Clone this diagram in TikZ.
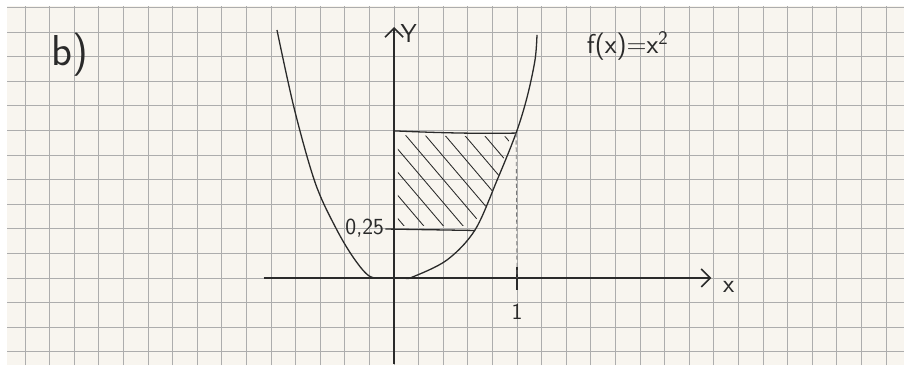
\documentclass[tikz,border=0pt]{standalone}
\usetikzlibrary{arrows.meta}
\definecolor{paper}{HTML}{F8F5EF}
\definecolor{gridgray}{HTML}{ADADAD}
\definecolor{ink}{HTML}{2A2A2A}
\tikzset{
  penline/.style={draw=ink, line width=0.9pt},
  axisline/.style={draw=ink, line width=1.1pt, -{Straight Barb[length=2.2mm,width=4.4mm]}},
  hatchline/.style={draw=ink, line width=0.6pt},
  hand/.style={text=ink, inner sep=0pt, font=\sffamily\fontsize{18}{20}\selectfont},
}
\begin{document}
\begin{tikzpicture}[x=0.6cm, y=0.6cm]
\useasboundingbox (-16.02,-3.90) rectangle (20.73,11.30);
% paper sheet with squares
\fill[white] (-16.02,-3.90) rectangle (20.73,11.30);
\fill[paper] (-15.73,-3.54) rectangle (20.73,11.05);
\draw[gridgray, line width=0.6pt, xstep=0.6cm, ystep=0.6cm] (-15.73,-3.54) grid (20.73,11.05);

% axes
\coordinate (O) at (0,0);
\coordinate (xstart) at (-5.3,0);
\coordinate (xend) at (12.9,0);
\coordinate (ystart) at (0,-3.5);
\coordinate (yend) at (0,10.2);
\draw[axisline] (xstart) -- (xend);
\draw[axisline] (ystart) -- (yend);
\node[hand] (xlabel) at (13.6,-0.35) {x};
\node[hand] (ylabel) at (0.6,9.95) {Y};

% tick at x = 1
\coordinate (tickup) at (5,0.45);
\coordinate (tickdown) at (5,-0.5);
\draw[penline, line width=1.1pt] (tickup) -- (tickdown);
\node[hand, font=\sffamily\fontsize{16}{18}\selectfont] (one) at (5,-1.38) {1};

% parabola (hand drawn)
\draw[penline] plot[smooth, tension=0.55] coordinates {(-4.76,10.08) (-4.05,6.85) (-3.2,3.85) (-2.35,2.0) (-1.62,0.78) (-0.98,0.06) (-0.3,0) (0.4,0) (0.73,0.03) (2.15,0.73) (3.29,1.95) (4.19,3.98) (4.96,5.89) (5.41,7.36) (5.73,8.86) (5.81,9.88)};

% strip between y = 0.25 and y = 1
\coordinate (topL) at (0,5.98);
\coordinate (topR) at (4.96,5.89);
\coordinate (lowL) at (-0.35,1.99);
\coordinate (lowR) at (3.30,1.93);
\coordinate (xone) at (5,0);
\draw[penline] (topL) .. controls (1.8,5.9) and (3.4,5.86) .. (topR);
\draw[penline] (lowL) -- (lowR);
\draw[gridgray!70!black, line width=0.6pt, densely dashed] (topR) -- (xone);
\node[hand, font=\sffamily\fontsize{16}{18}\selectfont, anchor=east] (quarter) at (-0.4,2.02) {0,25};

% hatching
\begin{scope}
\clip (0.15,5.8) -- (4.72,5.75) -- (4.19,3.98) -- (3.75,2.95) -- (3.15,2.12) -- (0.15,2.12) -- cycle;
\foreach \s in {-2.9,-2.1,...,4.9}
  \draw[hatchline] (\s,6) -- ++(4,-4.7);
\end{scope}

% labels
\node[hand, font=\sffamily\fontsize{19}{22}\selectfont] (fx) at (9.5,9.45) {f(x)=x\textsuperscript{2}};
\node[hand, font=\sffamily\fontsize{30}{34}\selectfont] (part) at (-13.17,9.07) {b)};
\end{tikzpicture}
\end{document}
